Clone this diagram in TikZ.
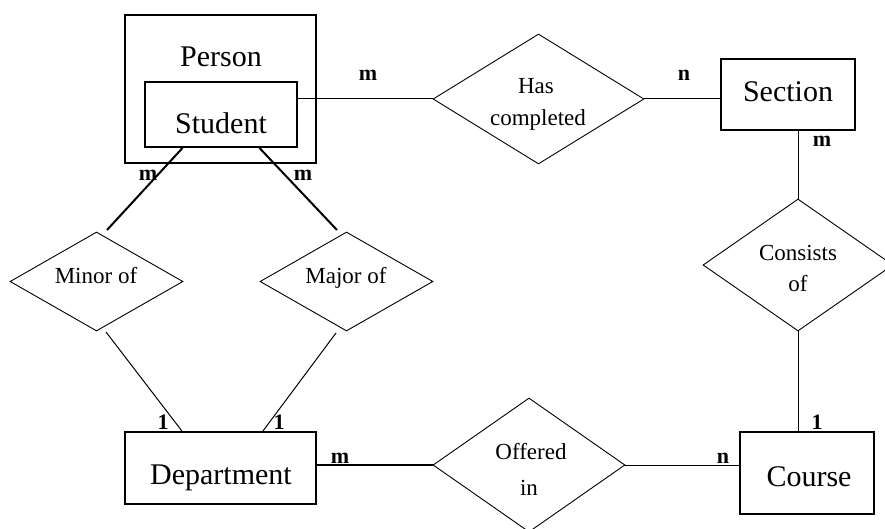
\documentclass[tikz,border=0pt]{standalone}
\usepackage{fontspec}
\setmainfont{Liberation Serif}
\usetikzlibrary{shapes.geometric,calc}
\begin{document}
\begin{tikzpicture}[x=1pt,y=-1pt,
  entity/.style={draw, line width=2pt, inner sep=0pt},
  etext/.style={inner sep=0pt, text height=20pt, text depth=0pt, font=\fontsize{30}{33}\selectfont},
  rel/.style={diamond, draw, line width=0.9pt, inner sep=0pt},
  rtext/.style={inner sep=0pt, text height=15.5pt, text depth=0pt, font=\fontsize{23}{25}\selectfont},
  card/.style={inner sep=0pt, font=\bfseries\fontsize{22}{24}\selectfont},
  thinline/.style={line width=1pt},
  heavyline/.style={line width=2pt}]
\useasboundingbox (0,0) rectangle (885,529);
\clip (0,0) rectangle (885,529);

% entities
\node[entity, minimum width=191pt, minimum height=148pt] (person) at (220.5,89) {};
\node[etext] (persontxt) at (221,57) {Person};
\node[entity, minimum width=152pt, minimum height=65pt] (student) at (221,114.5) {};
\node[etext] (studenttxt) at (221,124) {Student};
\node[entity, minimum width=134pt, minimum height=71pt] (section) at (788,94.5) {};
\node[etext] (sectiontxt) at (788,92) {Section};
\node[entity, minimum width=134pt, minimum height=82pt] (course) at (807,473) {};
\node[etext] (coursetxt) at (809,476) {Course};
\node[entity, minimum width=191pt, minimum height=72pt] (dept) at (220.5,468) {};
\node[etext] (depttxt) at (221,474) {Department};

% relationships
\node[rel, minimum width=211pt, minimum height=130pt] (hc) at (538.5,99) {};
\node[rtext] (hctxt1) at (536,86) {Has};
\node[rtext] (hctxt2) at (538,118) {completed};
\node[rel, minimum width=190pt, minimum height=132pt] (consists) at (798,265) {};
\node[rtext] (constxt1) at (798,253) {Consists};
\node[rtext] (constxt2) at (798,284) {of};
\node[rel, minimum width=192pt, minimum height=134pt] (offered) at (529,465) {};
\node[rtext] (offtxt1) at (531,452) {Offered};
\node[rtext] (offtxt2) at (529,488) {in};
\node[rel, minimum width=173pt, minimum height=99pt] (minor) at (96.5,281.5) {};
\node[rtext] (minortxt) at (96,276) {Minor of};
\node[rel, minimum width=173pt, minimum height=99pt] (major) at (346.5,281.5) {};
\node[rtext] (majortxt) at (346,276) {Major of};

% free ends of the slanted connectors
\coordinate (minortop) at (107,230);
\coordinate (majortop) at (337,230);
\coordinate (minorbot) at (106,332);
\coordinate (majorbot) at (336,333);

% connectors
\draw[thinline] ($(student.east)+(0,-15.5)$) -- (hc.west);
\draw[thinline] (hc.east) -- (hc.east -| section.west);
\draw[thinline] (consists.north) -- (consists.north |- section.south);
\draw[thinline] (consists.south) -- (consists.south |- course.north);
\draw[thinline] (offered.east) -- (offered.east -| course.west);
\draw[heavyline] (offered.west -| dept.east) -- (offered.west);
\draw[heavyline] ($(student.south west)!0.25!(student.south east)$) -- (minortop);
\draw[heavyline] ($(student.south west)!0.75!(student.south east)$) -- (majortop);
\draw[thinline] (minorbot) -- ($(dept.north west)!0.30!(dept.north east)$);
\draw[thinline] (majorbot) -- ($(dept.north west)!0.72!(dept.north east)$);

% cardinalities
\node[card] (c1) at (368,75) {m};
\node[card] (c2) at (684,75) {n};
\node[card] (c3) at (822,141) {m};
\node[card] (c4) at (817,422) {1};
\node[card] (c5) at (723,458) {n};
\node[card] (c6) at (340,458) {m};
\node[card] (c7) at (163,422) {1};
\node[card] (c8) at (279,422) {1};
\node[card] (c9) at (148,175) {m};
\node[card] (c10) at (303,175) {m};
\end{tikzpicture}
\end{document}
